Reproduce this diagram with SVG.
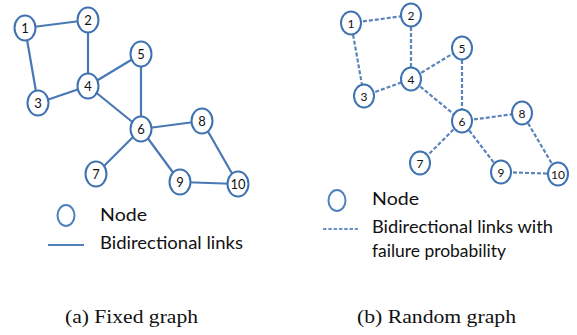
<svg xmlns="http://www.w3.org/2000/svg" width="577" height="335" viewBox="0 0 577 335">
<style>
.e{stroke:#4a78b4;stroke-width:2.2;fill:none}
.d{stroke:#5b84bb;stroke-width:2.2;fill:none;stroke-dasharray:4 2}
.n ellipse{fill:#fff;stroke:#3f72b0;stroke-width:2}
.n text{font-family:Lato,"Liberation Sans",sans-serif;font-size:13px;fill:#111;text-anchor:middle}
.m text{font-size:12px}
.lg{font-family:Lato,"Liberation Sans",sans-serif;font-size:18px;fill:#111}
.cap{font-family:"Liberation Serif",serif;font-size:19px;fill:#111}
</style>
<rect width="577" height="335" fill="#fff"/>
<g id="connectors-a">
<line class="e" x1="25" y1="28" x2="88" y2="20"/>
<line class="e" x1="25" y1="28" x2="38" y2="103"/>
<line class="e" x1="88" y1="20" x2="88" y2="86"/>
<line class="e" x1="38" y1="103" x2="88" y2="86"/>
<line class="e" x1="88" y1="86" x2="141" y2="54"/>
<line class="e" x1="88" y1="86" x2="141" y2="129"/>
<line class="e" x1="141" y1="54" x2="141" y2="129"/>
<line class="e" x1="141" y1="129" x2="202" y2="121"/>
<line class="e" x1="141" y1="129" x2="96" y2="174"/>
<line class="e" x1="141" y1="129" x2="180" y2="182"/>
<line class="e" x1="202" y1="121" x2="238" y2="184"/>
<line class="e" x1="180" y1="182" x2="238" y2="184"/>
</g>
<g id="a1" class="n"><ellipse cx="25" cy="28" rx="10.5" ry="12.5"/><text x="25" y="33">1</text></g>
<g id="a2" class="n"><ellipse cx="88" cy="20" rx="10.5" ry="12.5"/><text x="88" y="25">2</text></g>
<g id="a3" class="n"><ellipse cx="38" cy="103" rx="10.5" ry="12.5"/><text x="38" y="108">3</text></g>
<g id="a4" class="n"><ellipse cx="88" cy="86" rx="10.5" ry="12.5"/><text x="88" y="91">4</text></g>
<g id="a5" class="n"><ellipse cx="141" cy="54" rx="10.5" ry="12.5"/><text x="141" y="59">5</text></g>
<g id="a6" class="n"><ellipse cx="141" cy="129" rx="10.5" ry="12.5"/><text x="141" y="134">6</text></g>
<g id="a7" class="n"><ellipse cx="96" cy="174" rx="10.5" ry="12.5"/><text x="96" y="179">7</text></g>
<g id="a8" class="n"><ellipse cx="202" cy="121" rx="10.5" ry="12.5"/><text x="202" y="126">8</text></g>
<g id="a9" class="n"><ellipse cx="180" cy="182" rx="10.5" ry="12.5"/><text x="180" y="187">9</text></g>
<g id="a10" class="n"><ellipse cx="238" cy="184" rx="10.5" ry="12.5"/><text x="238" y="189">10</text></g>

<g id="connectors-b">
<line class="d" x1="351" y1="23" x2="411" y2="15"/>
<line class="d" x1="351" y1="23" x2="364" y2="96"/>
<line class="d" x1="411" y1="15" x2="411" y2="79"/>
<line class="d" x1="364" y1="96" x2="411" y2="79"/>
<line class="d" x1="411" y1="79" x2="462" y2="48"/>
<line class="d" x1="411" y1="79" x2="462" y2="121"/>
<line class="d" x1="462" y1="48" x2="462" y2="121"/>
<line class="d" x1="462" y1="121" x2="522" y2="113"/>
<line class="d" x1="462" y1="121" x2="420" y2="163"/>
<line class="d" x1="462" y1="121" x2="501" y2="172"/>
<line class="d" x1="522" y1="113" x2="558" y2="174"/>
<line class="d" x1="501" y1="172" x2="558" y2="174"/>
</g>
<g id="b1" class="n m"><ellipse cx="351" cy="23" rx="10" ry="11.5"/><text x="351" y="27.5">1</text></g>
<g id="b2" class="n m"><ellipse cx="411" cy="15" rx="10" ry="11.5"/><text x="411" y="19.5">2</text></g>
<g id="b3" class="n m"><ellipse cx="364" cy="96" rx="10" ry="11.5"/><text x="364" y="100.5">3</text></g>
<g id="b4" class="n m"><ellipse cx="411" cy="79" rx="10" ry="11.5"/><text x="411" y="83.5">4</text></g>
<g id="b5" class="n m"><ellipse cx="462" cy="48" rx="10" ry="11.5"/><text x="462" y="52.5">5</text></g>
<g id="b6" class="n m"><ellipse cx="462" cy="121" rx="10" ry="11.5"/><text x="462" y="125.5">6</text></g>
<g id="b7" class="n m"><ellipse cx="420" cy="163" rx="10" ry="11.5"/><text x="420" y="167.5">7</text></g>
<g id="b8" class="n m"><ellipse cx="522" cy="113" rx="10" ry="11.5"/><text x="522" y="117.5">8</text></g>
<g id="b9" class="n m"><ellipse cx="501" cy="172" rx="10" ry="11.5"/><text x="501" y="176.5">9</text></g>
<g id="b10" class="n m"><ellipse cx="558" cy="174" rx="10" ry="11.5"/><text x="558" y="178.5">10</text></g>

<g id="legend-a">
<ellipse cx="66" cy="215.5" rx="8.5" ry="10.5" fill="none" stroke="#4f81bd" stroke-width="2"/>
<text class="lg" x="100" y="221" textLength="47" lengthAdjust="spacingAndGlyphs">Node</text>
<line x1="48" y1="245" x2="84" y2="245" stroke="#4f81bd" stroke-width="2"/>
<text class="lg" x="100" y="249" textLength="143" lengthAdjust="spacingAndGlyphs">Bidirectional links</text>
</g>
<g id="legend-b">
<ellipse cx="337" cy="200.5" rx="8.5" ry="10.5" fill="none" stroke="#4f81bd" stroke-width="2"/>
<text class="lg" x="372" y="205" textLength="47" lengthAdjust="spacingAndGlyphs">Node</text>
<line x1="323" y1="229" x2="358" y2="229" stroke="#6d93c6" stroke-width="2" stroke-dasharray="3.5 1.8"/>
<text class="lg" x="372" y="233" textLength="181" lengthAdjust="spacingAndGlyphs">Bidirectional links with</text>
<text class="lg" x="372" y="257" textLength="134" lengthAdjust="spacingAndGlyphs">failure probability</text>
</g>
<text class="cap" x="65" y="323" textLength="133" lengthAdjust="spacingAndGlyphs">(a) Fixed graph</text>
<text class="cap" x="357" y="323" textLength="159" lengthAdjust="spacingAndGlyphs">(b) Random graph</text>
</svg>
